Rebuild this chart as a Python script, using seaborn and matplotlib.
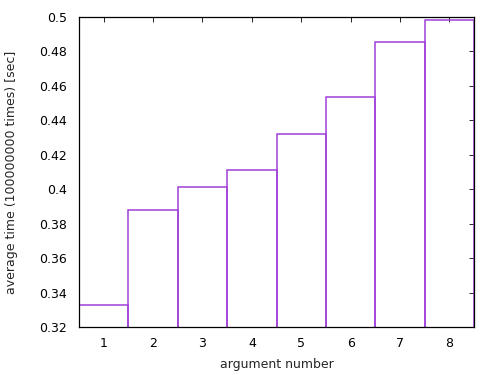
import matplotlib
matplotlib.use("Agg")
import matplotlib.pyplot as plt
import seaborn as sns
import pandas as pd

# values
args = ["1", "2", "3", "4", "5", "6", "7", "8"]
avg_time = [0.3326, 0.3881, 0.4015, 0.4110, 0.4319, 0.4536, 0.4853, 0.4981]
y_ticks = [0.32, 0.34, 0.36, 0.38, 0.40, 0.42, 0.44, 0.46, 0.48, 0.50]
y_tick_labels = ["0.32", "0.34", "0.36", "0.38", "0.4", "0.42", "0.44", "0.46", "0.48", "0.5"]

df = pd.DataFrame({"arg": args, "time": avg_time})

sns.set_style("white")
plt.rcParams["font.family"] = ["DejaVu Sans"]

fig = plt.figure(figsize=(5, 3.75), dpi=100)
ax = fig.add_axes([0.158, 0.128, 0.79, 0.827])

sns.barplot(data=df, x="arg", y="time", width=1.0, fill=False,
            color="#a040d8", linewidth=1.1, errorbar=None, ax=ax)
for p in ax.patches:
    p.set_edgecolor("#a040d8")

ax.set_xlim(-0.5, 7.5)
ax.set_ylim(0.32, 0.50)
ax.set_yticks(y_ticks)
ax.set_yticklabels(y_tick_labels)
ax.set_xlabel("argument number", fontsize=9, labelpad=6)
ax.set_ylabel("average time (100000000 times) [sec]", fontsize=9, labelpad=15)
ax.tick_params(direction="in", top=True, right=True, length=3.5, width=0.6,
               labelsize=9, colors="black")
ax.tick_params(axis="y", pad=8.5)
ax.tick_params(axis="x", pad=7)
for s in ax.spines.values():
    s.set_linewidth(0.9)
    s.set_color("black")

fig.savefig("out.png", dpi=100)
